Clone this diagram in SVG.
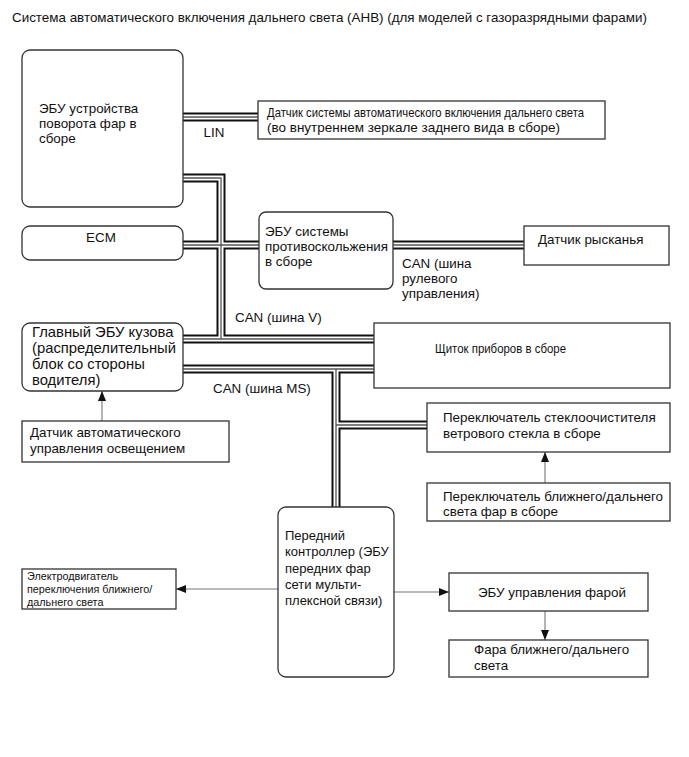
<svg xmlns="http://www.w3.org/2000/svg" width="689" height="757" viewBox="0 0 689 757">
<style>
text{font-family:"Liberation Sans",Arial,sans-serif;font-size:13.4px;fill:#111}
.sm{font-size:10.8px}
.lg{font-size:14.8px}
.k{font-size:13px}
.box{fill:#fff;stroke:#333;stroke-width:1.3}
.busB{fill:none;stroke:#111;stroke-width:9;stroke-linejoin:miter}
.busW{fill:none;stroke:#fff;stroke-width:5;stroke-linejoin:miter}
.busC{fill:none;stroke:#555;stroke-width:1.3;stroke-linejoin:miter}
.arr{fill:none;stroke:#777;stroke-width:1.1}
</style>
<defs>
<marker id="ah" viewBox="0 0 10 8" refX="10" refY="4" markerWidth="10" markerHeight="8" markerUnits="userSpaceOnUse" orient="auto">
<path d="M0,0 L10,4 L0,8 Z" fill="#111"/>
</marker>
</defs>
<rect width="689" height="757" fill="#fff"/>
<text id="title" x="12" y="22">Система автоматического включения дальнего света (АНВ) (для моделей с газоразрядными фарами)</text>

<g id="connectors">
<g id="buses">
<path class="busB" d="M183,117H258 M183,178H221V339 M183,339H374 M183,245H259 M393,245H524 M183,369H374 M336,369V507 M336,425H427"/>
<path class="busW" d="M183,117H258 M183,178H221V339 M183,339H374 M183,245H259 M393,245H524 M183,369H374 M336,369V507 M336,425H427"/>
<path class="busC" d="M183,117H258 M183,178H221V339 M183,339H374 M183,245H259 M393,245H524 M183,369H374 M336,369V507 M336,425H427"/>
</g>
<g id="arrows">
<path class="arr" d="M102,421V391" marker-end="url(#ah)"/>
<path class="arr" d="M545,483V452" marker-end="url(#ah)"/>
<path class="arr" d="M278,589H176" marker-end="url(#ah)"/>
<path class="arr" d="M394,592H449" marker-end="url(#ah)"/>
<path class="arr" d="M545,611V640" marker-end="url(#ah)"/>
</g>
<text x="214" y="137" text-anchor="middle">LIN</text>
<text x="402" y="268">CAN (шина</text>
<text x="402" y="283">рулевого</text>
<text x="402" y="298">управления)</text>
<text x="235" y="322">CAN (шина V)</text>
<text x="213" y="393">CAN (шина MS)</text>
</g>

<g id="swivel-ecu">
<rect class="box" x="22" y="50" width="161" height="157" rx="8"/>
<text x="39" y="113">ЭБУ устройства</text>
<text x="39" y="128">поворота фар в</text>
<text x="39" y="143">сборе</text>
</g>
<g id="ahb-sensor">
<rect class="box" x="258" y="101" width="347" height="38"/>
<text x="267" y="117" textLength="317" lengthAdjust="spacingAndGlyphs">Датчик системы автоматического включения дальнего света</text>
<text x="267" y="132" textLength="293" lengthAdjust="spacingAndGlyphs">(во внутреннем зеркале заднего вида в сборе)</text>
</g>
<g id="ecm">
<rect class="box" x="22" y="226" width="161" height="34" rx="8"/>
<text x="101" y="242" text-anchor="middle">ECM</text>
</g>
<g id="skid-ecu">
<rect class="box" x="259" y="212" width="134" height="77" rx="7"/>
<text x="265" y="236">ЭБУ системы</text>
<text x="265" y="251">противоскольжения</text>
<text x="265" y="266">в сборе</text>
</g>
<g id="yaw-sensor">
<rect class="box" x="524" y="226" width="145" height="39"/>
<text x="538" y="244">Датчик рысканья</text>
</g>
<g id="main-body-ecu">
<rect class="box" x="22" y="323" width="161" height="68" rx="8"/>
<text class="lg" x="32" y="337">Главный ЭБУ кузова</text>
<text class="lg" x="32" y="353">(распределительный</text>
<text class="lg" x="32" y="369">блок со стороны</text>
<text class="lg" x="32" y="385">водителя)</text>
</g>
<g id="combination-meter">
<rect class="box" x="374" y="323" width="296" height="65"/>
<text x="435" y="353" textLength="131" lengthAdjust="spacingAndGlyphs">Щиток приборов в сборе</text>
</g>
<g id="light-sensor">
<rect class="box" x="22" y="421" width="207" height="41"/>
<text x="30" y="437">Датчик автоматического</text>
<text x="30" y="453">управления освещением</text>
</g>
<g id="wiper-switch">
<rect class="box" x="427" y="403" width="243" height="49"/>
<text x="443" y="422">Переключатель стеклоочистителя</text>
<text x="443" y="438">ветрового стекла в сборе</text>
</g>
<g id="dimmer-switch">
<rect class="box" x="427" y="483" width="243" height="38"/>
<text x="443" y="501">Переключатель ближнего/дальнего</text>
<text x="443" y="516">света фар в сборе</text>
</g>
<g id="front-controller">
<rect class="box" x="278" y="507" width="116" height="170" rx="8"/>
<text class="k" x="285" y="540">Передний</text>
<text class="k" x="285" y="556">контроллер (ЭБУ</text>
<text class="k" x="285" y="573">передних фар</text>
<text class="k" x="285" y="589">сети мульти-</text>
<text class="k" x="285" y="605">плексной связи)</text>
</g>
<g id="dimmer-motor">
<rect class="box" x="22" y="569" width="154" height="40"/>
<text class="sm" x="27" y="580">Электродвигатель</text>
<text class="sm" x="27" y="593">переключения ближнего/</text>
<text class="sm" x="27" y="606">дальнего света</text>
</g>
<g id="headlight-ecu">
<rect class="box" x="449" y="573" width="199" height="38"/>
<text x="478" y="597">ЭБУ управления фарой</text>
</g>
<g id="headlight">
<rect class="box" x="449" y="640" width="199" height="37"/>
<text x="474" y="654">Фара ближнего/дальнего</text>
<text x="474" y="670">света</text>
</g>
</svg>
